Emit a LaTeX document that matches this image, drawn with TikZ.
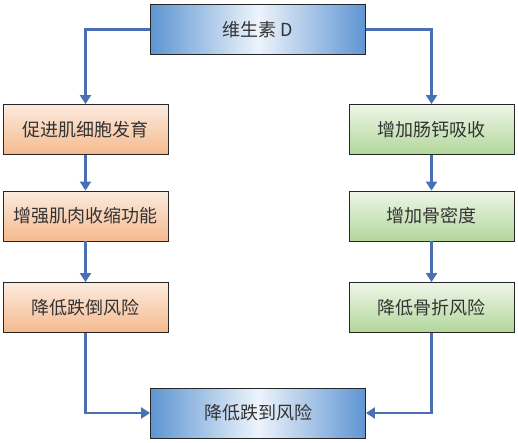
\documentclass[tikz,border=0pt]{standalone}
\usepackage{fontspec}
\newfontfamily\cjk{Noto Sans CJK SC}
\usetikzlibrary{arrows.meta}
\definecolor{bluebox}{HTML}{5E95D3}
\definecolor{bluemid}{HTML}{EEF4FB}
\definecolor{orangetop}{HTML}{FCEBDF}
\definecolor{orangebot}{HTML}{F5B98E}
\definecolor{greentop}{HTML}{EEF6E8}
\definecolor{greenbot}{HTML}{B2D69A}
\definecolor{arrowc}{HTML}{4A6FB5}
\definecolor{txt}{HTML}{333333}
\begin{document}
\begin{tikzpicture}[x=1pt,y=-1pt,
  base/.style={draw=black!85,line width=0.9pt,minimum height=50pt,inner sep=0pt,font=\cjk\fontsize{18}{21}\selectfont,text=txt},
  bluebx/.style={base,minimum width=215pt,left color=bluebox,right color=bluebox,middle color=bluemid},
  orangebx/.style={base,minimum width=165pt,top color=orangetop,bottom color=orangebot},
  greenbx/.style={base,minimum width=165pt,top color=greentop,bottom color=greenbot},
  conn/.style={draw=arrowc,line width=2.6pt,-{Triangle[length=9pt,width=11pt]}}]
\useasboundingbox (0,0) rectangle (518,442);
\fill[white] (0,0) rectangle (518,442);
\node[bluebx] (top) at (258,29.5) {维生素 D};
\node[orangebx] (l1) at (85.5,129.5) {促进肌细胞发育};
\node[orangebx] (l2) at (85.5,216) {增强肌肉收缩功能};
\node[orangebx] (l3) at (85.5,307.5) {降低跌倒风险};
\node[greenbx] (r1) at (431.5,129.5) {增加肠钙吸收};
\node[greenbx] (r2) at (431.5,216) {增加骨密度};
\node[greenbx] (r3) at (431.5,307.5) {降低骨折风险};
\node[bluebx] (bot) at (258,413) {降低跌到风险};
\draw[conn] (top.west) -| (l1.north);
\draw[conn] (top.east) -| (r1.north);
\draw[conn] (l1) -- (l2);
\draw[conn] (l2) -- (l3);
\draw[conn] (r1) -- (r2);
\draw[conn] (r2) -- (r3);
\draw[conn] (l3.south) |- (bot.west);
\draw[conn] (r3.south) |- (bot.east);
\end{tikzpicture}
\end{document}
